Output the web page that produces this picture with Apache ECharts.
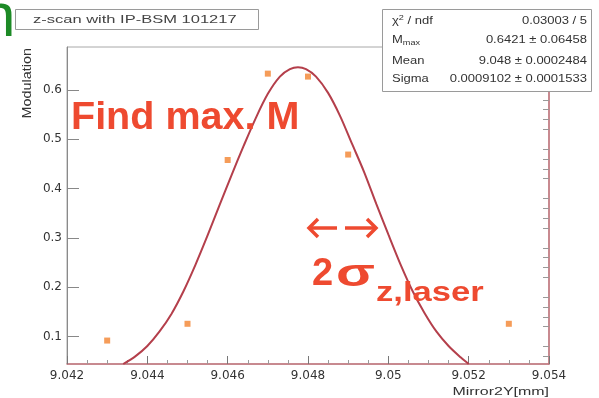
<!DOCTYPE html>
<html>
<head>
<meta charset="utf-8">
<script src="https://cdn.jsdelivr.net/npm/echarts@6/dist/echarts.min.js"></script>
<style>
  html, body { margin: 0; padding: 0; background: #fff; }
  #chart { width: 599px; height: 398px; }
</style>
</head>
<body>
<div id="chart"></div>
<script>
// measured points (Mirror2Y [mm] vs modulation)
const pointX = [9.043, 9.045, 9.046, 9.047, 9.048, 9.049, 9.053];
const pointY = [0.092, 0.126, 0.458, 0.633, 0.627, 0.469, 0.126];

// fitted curve
const curveX = [9.0434, 9.0437, 9.0440, 9.0443, 9.0446, 9.0449, 9.0452, 9.0455, 9.0458, 9.0461,
                9.0464, 9.0467, 9.0470, 9.0473, 9.04755, 9.04775, 9.04795, 9.0482, 9.0485, 9.0488, 9.0491,
                9.0494, 9.0497, 9.0500, 9.0503, 9.0506, 9.0509, 9.0512, 9.0515, 9.0518, 9.0520];
const curveY = [0.0445, 0.060, 0.081, 0.110, 0.146, 0.192, 0.246, 0.305, 0.367, 0.428,
                0.487, 0.543, 0.592, 0.627, 0.642, 0.646, 0.642, 0.627, 0.594, 0.547, 0.490,
                0.433, 0.369, 0.307, 0.247, 0.193, 0.148, 0.110, 0.081, 0.058, 0.0445];

// axis ranges and tick labels
const xRange = [9.042, 9.054];
const yRange = [0.0445, 0.687];
const yTickValues = [0.1, 0.2, 0.3, 0.4, 0.5, 0.6];

// fit box
const statNames = ['chi', 'Mmax', 'Mean', 'Sigma'];
const statValues = ['0.03003 / 5', '0.6421 \u00b1 0.06458', '9.048 \u00b1 0.0002484', '0.0009102 \u00b1 0.0001533'];

const RED = '#ee4a30';
const CURVE = '#b43f4b';
const FRAME_RED = '#c4727a';

let minorY = [];
for (let v = 0.06; v < yRange[1]; v += 0.02) {
  const r = Math.round(v * 100) / 100;
  if (Math.round(r * 100) % 10 !== 0) minorY.push(r);
}

const chart = echarts.init(document.getElementById('chart'));

function statGraphics() {
  let els = [{
    type: 'rect', z: 50,
    shape: {x: 382.5, y: 9.5, width: 209, height: 82},
    style: {fill: '#fff', stroke: '#9a9a9a', lineWidth: 1}
  }];
  const rows = [21, 40.5, 61, 79.5];
  for (let i = 0; i < statNames.length; i++) {
    let name = statNames[i];
    let label;
    if (name === 'chi') {
      label = {type: 'text', x: 392, y: rows[i], z: 51, scaleX: 1.3,
        style: {text: '{a|\u03c7}{s|2}{a| / ndf}', verticalAlign: 'middle',
          rich: {a: {fontSize: 10, fontFamily: 'Liberation Sans', fill: '#333'},
                 s: {fontSize: 7, fontFamily: 'Liberation Sans', fill: '#333', verticalAlign: 'top', padding: [0, 0, 5, 0]}}}};
    } else if (name === 'Mmax') {
      label = {type: 'text', x: 392, y: rows[i], z: 51, scaleX: 1.3,
        style: {text: '{a|M}{s|max}', verticalAlign: 'middle',
          rich: {a: {fontSize: 10, fontFamily: 'Liberation Sans', fill: '#333'},
                 s: {fontSize: 7, fontFamily: 'Liberation Sans', fill: '#333', verticalAlign: 'bottom', padding: [5, 0, 0, 0]}}}};
    } else {
      label = {type: 'text', x: 392, y: rows[i], z: 51, scaleX: 1.3,
        style: {text: name, fontSize: 10, fontFamily: 'Liberation Sans', fill: '#333', verticalAlign: 'middle'}};
    }
    els.push(label);
    els.push({type: 'text', x: 587, y: rows[i], z: 51, scaleX: 1.3,
      style: {text: statValues[i], fontSize: 10, fontFamily: 'Liberation Sans', fill: '#333',
        align: 'right', verticalAlign: 'middle'}});
  }
  return els;
}

chart.setOption({
  animation: false,
  grid: {left: 67, right: 50, top: 47, bottom: 34, show: true, borderColor: '#a8a8a8', borderWidth: 1},
  xAxis: {
    type: 'value', min: xRange[0], max: xRange[1], interval: 0.002,
    axisLine: {show: true, lineStyle: {color: FRAME_RED, width: 1.5}},
    axisTick: {inside: true, length: 8, lineStyle: {color: '#777'}},
    minorTick: {show: true, splitNumber: 4, length: 4, lineStyle: {color: '#999'}},
    splitLine: {show: false},
    axisLabel: {
      margin: 6, color: '#333', fontSize: 12, fontFamily: 'DejaVu Sans',
      showMinLabel: true, showMaxLabel: true,
      formatter: v => String(+v.toFixed(3))
    }
  },
  yAxis: [{
    type: 'value', min: yRange[0], max: yRange[1],
    axisLine: {show: true, lineStyle: {color: '#8a8a8a', width: 1}},
    axisTick: {inside: true, length: 12, customValues: yTickValues, lineStyle: {color: '#888'}},
    axisLabel: {customValues: yTickValues, margin: 5, color: '#333', fontSize: 12, fontFamily: 'DejaVu Sans',
      formatter: v => v.toFixed(1)},
    splitLine: {show: false}
  }, {
    type: 'value', min: yRange[0], max: yRange[1],
    axisLine: {show: false},
    axisTick: {inside: true, length: 6, customValues: minorY, lineStyle: {color: '#999'}},
    axisLabel: {show: false},
    splitLine: {show: false}
  }, {
    type: 'value', min: yRange[0], max: yRange[1], position: 'right',
    axisLine: {show: true, lineStyle: {color: FRAME_RED, width: 1.5}},
    axisTick: {show: false}, axisLabel: {show: false}, splitLine: {show: false}
  }],
  series: [{
    type: 'line',
    data: curveX.map((x, i) => [x, curveY[i]]),
    smooth: 0.3, showSymbol: false,
    lineStyle: {color: CURVE, width: 2}, z: 3
  }, {
    type: 'scatter',
    data: pointX.map((x, i) => [x, pointY[i]]),
    symbol: 'rect', symbolSize: 6,
    itemStyle: {color: '#f38330'}, z: 4
  }],
  graphic: [
    // cut-off slide heading letter
    {type: 'text', x: -19, y: 19, style: {text: 'n', fontSize: 62, fontFamily: 'Liberation Sans',
      fill: '#1d8a26', verticalAlign: 'middle'}},
    // title box
    {type: 'rect', z: 50, shape: {x: 15.5, y: 9.5, width: 243, height: 20},
      style: {fill: '#fff', stroke: '#9a9a9a', lineWidth: 1}},
    {type: 'text', x: 33, y: 19.5, z: 51, scaleX: 1.5,
      style: {text: 'z-scan with IP-BSM 101217', fontSize: 11, fontFamily: 'Liberation Sans', fill: '#444',
        verticalAlign: 'middle'}},
    ...statGraphics(),
    // axis titles
    {type: 'text', x: 549, y: 392, scaleX: 1.45,
      style: {text: 'Mirror2Y[mm]', fontSize: 11, fontFamily: 'Liberation Sans', fill: '#333',
        align: 'right', verticalAlign: 'middle'}},
    {type: 'text', x: 28, y: 48, rotation: Math.PI / 2, scaleX: 1.2,
      style: {text: 'Modulation', fontSize: 12, fontFamily: 'Liberation Sans', fill: '#333',
        align: 'right', verticalAlign: 'middle'}},
    // annotations
    {type: 'text', x: 71, y: 119, z: 60, scaleX: 1.04,
      style: {text: 'Find max. M', fontSize: 38, fontWeight: 'bold', fontFamily: 'Liberation Sans',
        fill: RED, verticalAlign: 'middle'}},
    {type: 'polyline', z: 60, shape: {points: [[318, 219], [309, 228], [318, 237]]},
      style: {stroke: RED, lineWidth: 3.5, fill: null}},
    {type: 'line', z: 60, shape: {x1: 309, y1: 228, x2: 337, y2: 228}, style: {stroke: RED, lineWidth: 3.5}},
    {type: 'polyline', z: 60, shape: {points: [[367, 219], [376, 228], [367, 237]]},
      style: {stroke: RED, lineWidth: 3.5, fill: null}},
    {type: 'line', z: 60, shape: {x1: 345, y1: 228, x2: 376, y2: 228}, style: {stroke: RED, lineWidth: 3.5}},
    {type: 'text', x: 312, y: 275, z: 60,
      style: {text: '2', fontSize: 38, fontWeight: 'bold', fontFamily: 'Liberation Sans',
        fill: RED, verticalAlign: 'middle'}},
    {type: 'text', x: 336, y: 276, z: 60, scaleX: 1.5,
      style: {text: '\u03c3', fontSize: 38, fontWeight: 'bold', fontFamily: 'Liberation Sans',
        fill: RED, verticalAlign: 'middle'}},
    {type: 'text', x: 376, y: 294, z: 60, scaleX: 1.28,
      style: {text: 'z,laser', fontSize: 27, fontWeight: 'bold', fontFamily: 'Liberation Sans',
        fill: RED, verticalAlign: 'middle'}}
  ]
});
</script>
</body>
</html>
